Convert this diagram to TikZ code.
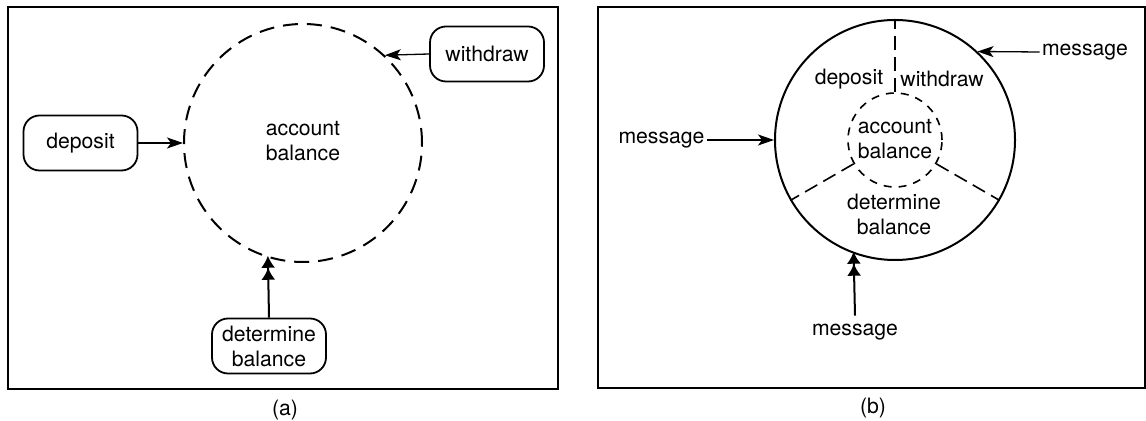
\documentclass[tikz,border=0pt]{standalone}
\usepackage{fontspec}
\setmainfont{TeX Gyre Heros}
\usetikzlibrary{arrows.meta}

\begin{document}
\begin{tikzpicture}[x=0.5pt,y=-0.5pt,
  every node/.style={font=\fontsize{10.6}{12.5}\selectfont, align=center},
  frame/.style={draw, line width=1pt},
  opbox/.style={draw, line width=0.9pt, rounded corners=8pt,
    minimum width=57pt, minimum height=27.5pt, inner sep=1pt},
  obj/.style={circle, draw, line width=1pt, inner sep=0pt},
  msg/.style={inner xsep=1pt, inner ysep=4pt},
  plain/.style={inner sep=0pt},
  flow/.style={line width=0.65pt, -{Stealth[length=8pt,width=5.5pt,inset=2pt]}},
  bigflow/.style={line width=1pt,
    -{Latex[length=6pt,width=7pt]Latex[length=6pt,width=7pt,sep=-1pt]}},
  wedge/.style={line width=0.8pt, dash pattern=on 7pt off 3.5pt}
]
\useasboundingbox (0,0) rectangle (1146,421);

% ---------- (a) procedures around the data ----------
\draw[frame] (8,7) rectangle (558,389);
\node[obj, minimum size=119pt, dash pattern=on 7.5pt off 4.5pt] (acct) at (303,143) {};
\node[plain] (acctlbl) at (303,141) {account\\balance};
\node[opbox] (dep) at (80.5,143) {deposit};
\node[opbox] (wd) at (487,54) {withdraw};
\node[opbox] (det) at (269,346) {determine\\balance};
\draw[flow] (dep.east) -- (acct.west);
\draw[flow] (wd.west) -- (acct.47.7);
\draw[bigflow] (det.north) -- (acct.253);
\node (capa) at (285,410) {(a)};

% ---------- (b) encapsulated object ----------
\draw[frame] (598,7) rectangle (1144.5,388);
\node[obj, minimum size=120pt] (outer) at (895,140) {};
\node[circle, draw, line width=0.8pt, minimum size=47pt, inner sep=0pt,
  dash pattern=on 4pt off 3.5pt] (inner) at (895,140) {};
\draw[wedge] (inner.90) -- (outer.90);
\draw[wedge] (inner.210) -- (outer.210);
\draw[wedge] (inner.330) -- (outer.330);
\node[plain] (innerlbl) at (895,139) {account\\balance};
\node[plain] (bdep) at (849,79) {deposit};
\node[plain] (bwd) at (942,79) {withdraw};
\node[plain] (bdet) at (894,214) {determine\\balance};
\node[msg] (m1) at (661.5,140) {message};
\node[msg] (m2) at (1085,52) {message};
\node[msg] (m3) at (855,332) {message};
\draw[flow] (m1.east) -- (outer.west);
\draw[flow] (m2.west) -- (outer.47.2);
\draw[bigflow] (m3.north) -- (outer.250.5);
\node (capb) at (873,408) {(b)};
\end{tikzpicture}
\end{document}
